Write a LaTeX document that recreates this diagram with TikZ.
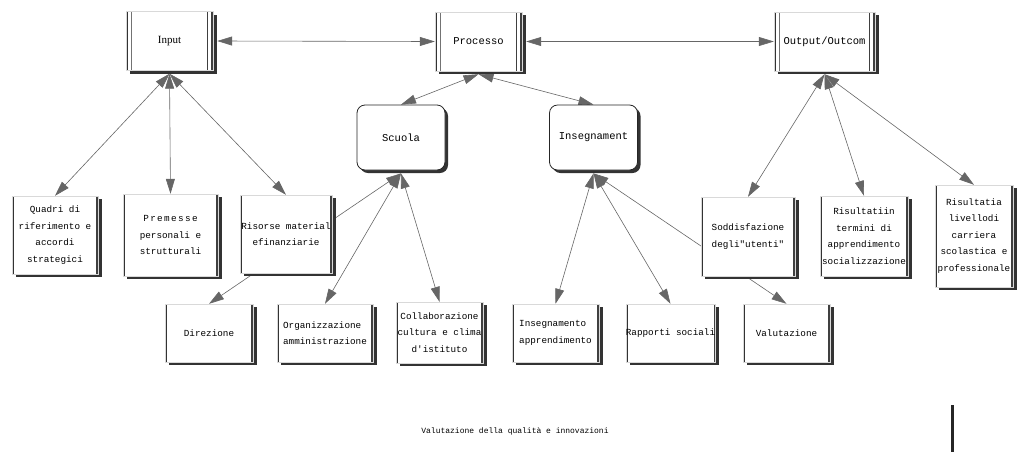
\documentclass[tikz,border=0pt]{standalone}
\usepackage{fontspec}
\setmainfont{Liberation Serif}
\setmonofont{Liberation Mono}
\usetikzlibrary{arrows.meta,shadows,backgrounds}

\newcommand{\bigbox}{\ttfamily\fontsize{10.5}{13}\selectfont}
\newcommand{\smallbox}{\ttfamily\fontsize{9.3}{16.5}\selectfont}

\tikzset{
  box/.style={rectangle, fill=white, draw=black!15, line width=0.4pt, inner sep=0pt,
    align=center, font=\smallbox,
    drop shadow={shadow xshift=4pt, shadow yshift=-3pt, fill=black!80, opacity=1},
    path picture={
      \fill[black!80] (path picture bounding box.north west) rectangle ([xshift=2pt]path picture bounding box.south west);
      \fill[black!75] ([xshift=-1.6pt]path picture bounding box.north east) rectangle (path picture bounding box.south east);
    }},
  topbox/.style={box, font=\bigbox, minimum width=87pt, minimum height=59pt,
    path picture={
      \fill[black!80] (path picture bounding box.north west) rectangle ([xshift=2pt]path picture bounding box.south west);
      \fill[black!55] ([xshift=5pt]path picture bounding box.north west) rectangle ([xshift=6pt]path picture bounding box.south west);
      \fill[black!75] ([xshift=-6.5pt]path picture bounding box.north east) rectangle ([xshift=-5.3pt]path picture bounding box.south east);
      \fill[black!75] ([xshift=-1.6pt]path picture bounding box.north east) rectangle (path picture bounding box.south east);
    }},
  rbox/.style={rectangle, rounded corners=8pt, fill=white, draw=black!85, line width=0.8pt,
    font=\bigbox, minimum width=88pt, minimum height=65pt,
    drop shadow={shadow xshift=3pt, shadow yshift=-3pt, fill=black!80, opacity=1}},
  link/.style={{Triangle[length=15pt,width=9pt]}-{Triangle[length=15pt,width=9pt]},
    draw=black!60, line width=0.6pt, color=black!60}
}

\begin{document}
\begin{tikzpicture}[x=1pt, y=-1pt]
\useasboundingbox (0,0) rectangle (1017,456);
% top row
\node[topbox, font=\rmfamily\fontsize{11}{13}\selectfont] (inp) at (169.5,41){Input};
\node[topbox] (proc) at (478.5,41.5){Processo};
\node[topbox, minimum width=101pt] (outc) at (824.5,41.5){Output/Outcom};
\node[rbox] (scu) at (401,137.5){Scuola};
\node[rbox] (ins) at (593.5,137.5){Insegnament};
% middle row
\node[box, minimum width=86pt, minimum height=78pt] (q) at (55,235){Quadri di\\riferimento e\\accordi\\strategici};
\node[box, minimum width=95pt, minimum height=82pt] (pre) at (170.5,235){{\addfontfeature{LetterSpace=15}Premesse}\\personali e\\strutturali};
\node[box, minimum width=92pt, minimum height=78pt] (ris) at (286,234){Risorse material\\efinanziarie};
\node[box, minimum width=94pt, minimum height=79pt, align=left] (sod) at (748,236.5){Soddisfazione\\degli"utenti"};
\node[box, minimum width=88pt, minimum height=80pt] (rt) at (864,236){Risultatiin\\termini di\\apprendimento\\socializzazione};
\node[box, minimum width=78pt, minimum height=102pt] (rl) at (974,236){Risultatia\\livellodi\\carriera\\scolastica e\\professionale};
% bottom row
\node[box, minimum width=88pt, minimum height=58pt] (dir) at (209,333){Direzione};
\node[box, minimum width=96pt, minimum height=58pt, align=left] (org) at (325,333){Organizzazione\\amministrazione};
\node[box, minimum width=87pt, minimum height=61pt] (col) at (439.5,332.5){Collaborazione\\cultura e clima\\d'istituto};
\node[box, minimum width=87pt, minimum height=58pt, align=left] (ia) at (555.5,333){Insegnamento\\ apprendimento};
\node[box, minimum width=87pt, minimum height=58pt] (rap) at (670.5,333){Rapporti sociali};
\node[box, minimum width=87pt, minimum height=58pt] (val) at (786.5,333){Valutazione};
\node[font=\ttfamily\fontsize{8}{10}\selectfont] (vq) at (515,431){Valutazione della qualità e innovazioni};
\fill[black!85] (951,405) rectangle (954,452);
% links
\begin{scope}[on background layer]
\draw[link] ([xshift=4pt]inp.east) -- (proc.west);
\draw[link] ([xshift=4pt]proc.east) -- (outc.west);
\draw[link] ([yshift=-3pt]inp.south) -- (q.north);
\draw[link] ([yshift=-3pt]inp.south) -- (pre.north);
\draw[link] ([yshift=-3pt]inp.south) -- (ris.north);
\draw[link] ([yshift=-3pt]proc.south) -- (scu.north);
\draw[link] ([yshift=-3pt]proc.south) -- (ins.north);
\draw[link] ([yshift=-3pt]scu.south) -- (dir.north);
\draw[link] ([yshift=-3pt]scu.south) -- (org.north);
\draw[link] ([yshift=-3pt]scu.south) -- (col.north);
\draw[link] ([yshift=-3pt]ins.south) -- (ia.north);
\draw[link] ([yshift=-3pt]ins.south) -- (rap.north);
\draw[link] ([yshift=-3pt]ins.south) -- (val.north);
\draw[link] ([yshift=-3pt]outc.south) -- (sod.north);
\draw[link] ([yshift=-3pt]outc.south) -- (rt.north);
\draw[link] ([yshift=-3pt]outc.south) -- (rl.north);
\end{scope}
\end{tikzpicture}
\end{document}
